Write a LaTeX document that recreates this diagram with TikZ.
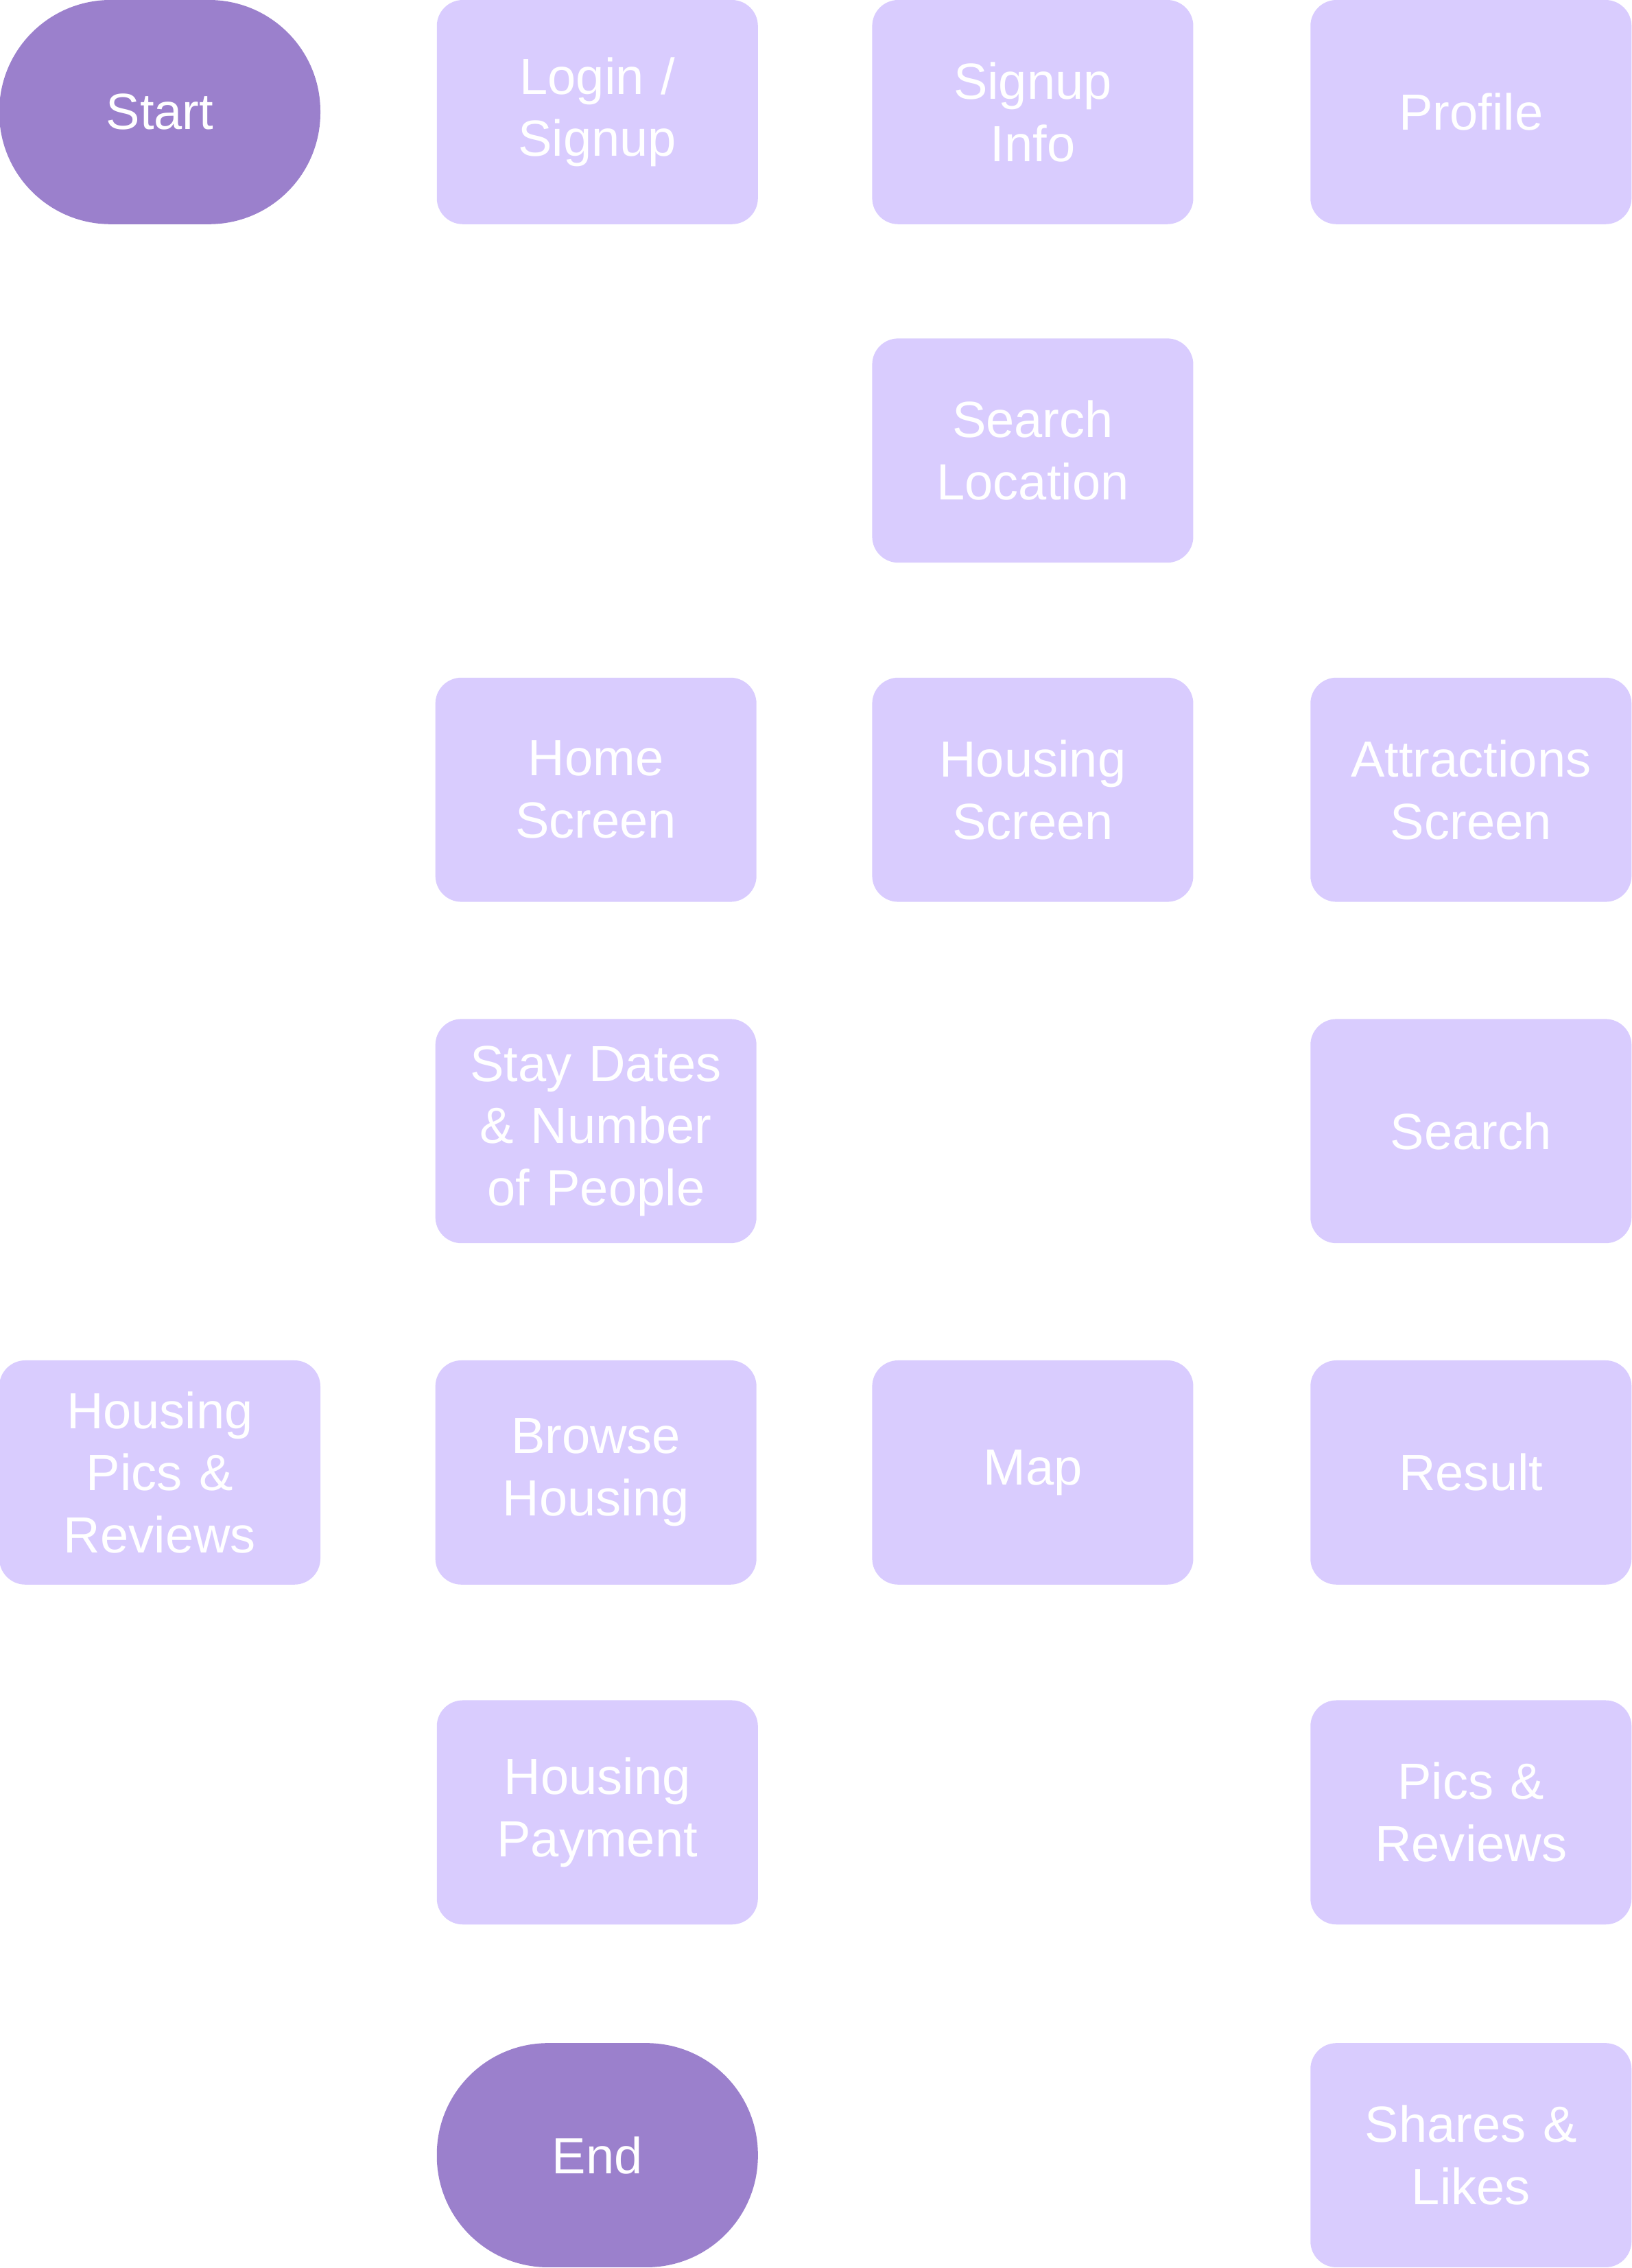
\documentclass[tikz,border=0pt]{standalone}
\usepackage{fontspec}
\setmainfont{Liberation Sans}
\definecolor{boxfill}{HTML}{D9CCFE}
\definecolor{termfill}{HTML}{9B80CC}
\tikzset{
    screen/.style={rectangle, rounded corners=.36cm, fill=boxfill, text=white,
        minimum width=4.44cm, minimum height=3.1cm, text width=4.2cm, align=center,
        font=\fontsize{20}{24.5}\selectfont},
    term/.style={screen, fill=termfill, rounded corners=1.54cm}
}
\begin{document}
\begin{tikzpicture}
    \useasboundingbox (0,0) rectangle (22.56,-31.36);
    \node[term] (start) at (2.21,-1.55) {Start};
    \node[screen] (login) at (8.26,-1.55) {Login /\\Signup};
    \node[screen] (signup) at (14.28,-1.55) {Signup\\Info};
    \node[screen] (profile) at (20.34,-1.55) {Profile};

    \node[screen] (location) at (14.28,-6.23) {Search\\Location};

    \node[screen] (home) at (8.24,-10.92) {Home\\Screen};
    \node[screen] (housing) at (14.28,-10.92) {Housing\\Screen};
    \node[screen] (attract) at (20.34,-10.92) {Attractions\\Screen};

    \node[screen] (dates) at (8.24,-15.64) {Stay Dates\\\& Number\\of People};
    \node[screen] (search) at (20.34,-15.64) {Search};

    \node[screen] (pics) at (2.21,-20.36) {Housing\\Pics \&\\Reviews};
    \node[screen] (browse) at (8.24,-20.36) {Browse\\Housing};
    \node[screen] (map) at (14.28,-20.36) {Map};
    \node[screen] (result) at (20.34,-20.36) {Result};

    \node[screen] (payment) at (8.26,-25.06) {Housing\\Payment};
    \node[screen] (reviews) at (20.34,-25.06) {Pics \&\\Reviews};

    \node[term] (end) at (8.26,-29.8) {End};
    \node[screen] (shares) at (20.34,-29.8) {Shares \&\\Likes};
\end{tikzpicture}
\end{document}
